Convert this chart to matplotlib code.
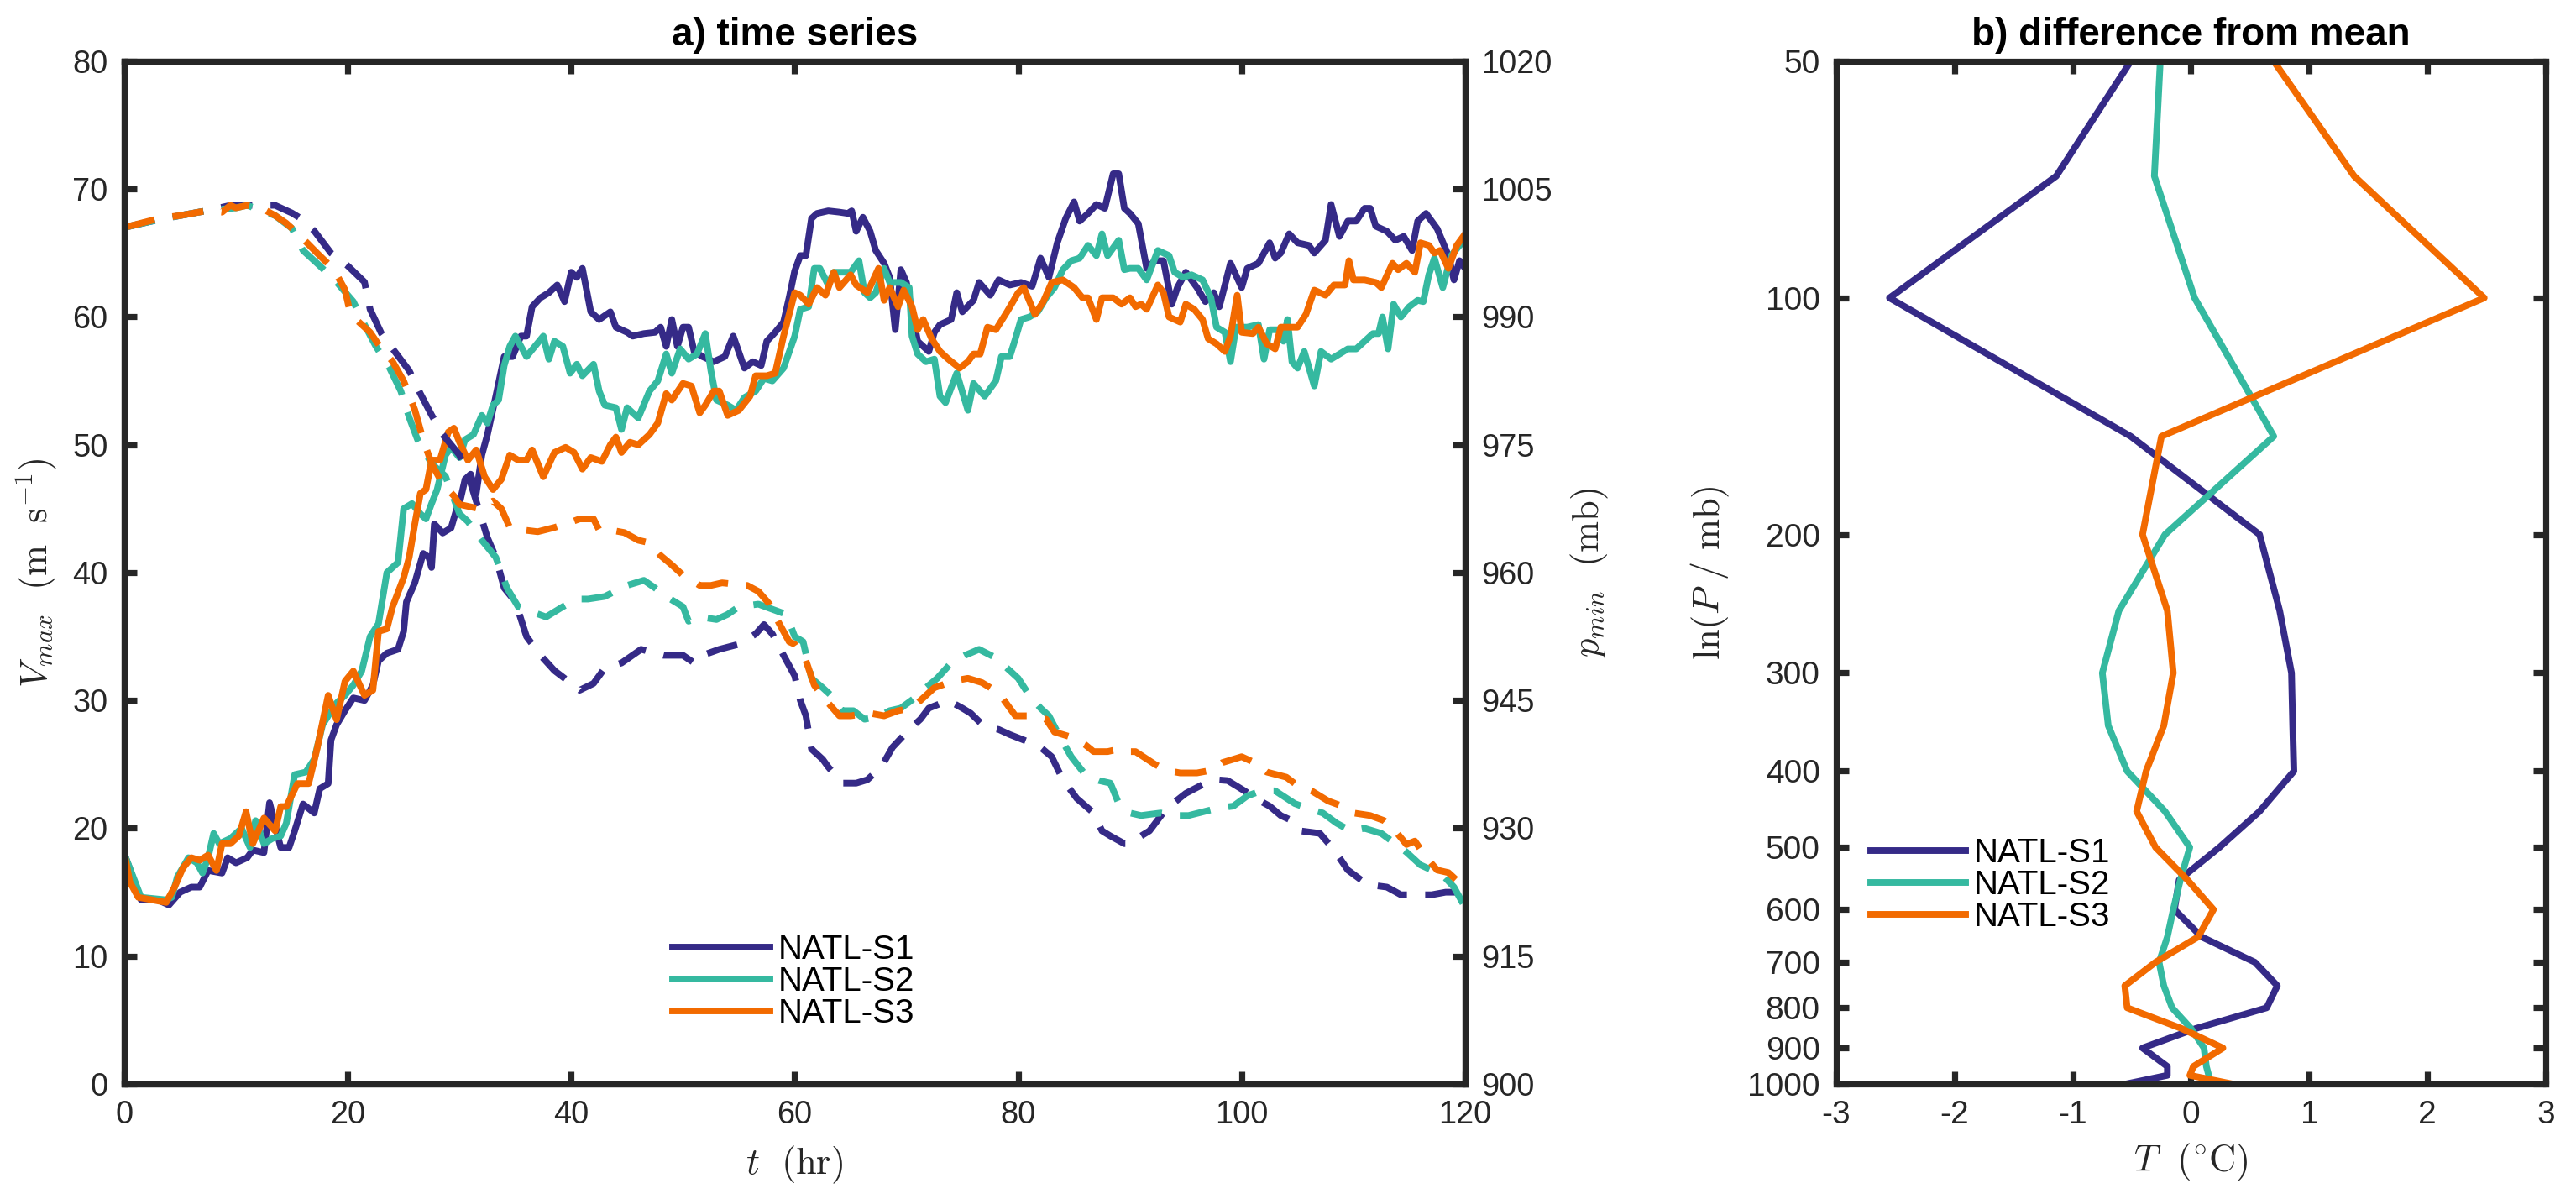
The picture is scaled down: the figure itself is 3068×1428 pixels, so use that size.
import numpy as np
import matplotlib
matplotlib.use('Agg')
import matplotlib.pyplot as plt
from matplotlib.ticker import NullLocator

# ── Data: a) time series ──────────────────────────────────────────────────────
runs = ['NATL-S1', 'NATL-S2', 'NATL-S3']

# Vmax (m/s), solid lines
t_v1 = [0, 1.5, 3, 4, 5, 6, 6.75, 7.5, 8.75, 9.25,
        10, 11, 11.5, 12.5, 13, 14, 14.75, 15.25, 16, 17,
        17.5, 18.25, 18.5, 19, 19.75, 20.5, 21.5, 22.25, 22.75, 23.5,
        24.5, 25, 25.25, 26, 26.75, 27.25, 27.5, 27.75, 28.5, 29.25,
        29.75, 30, 30.5, 31, 31.5, 32, 32.5, 33.25, 34, 34.75,
        35.5, 36, 36.5, 37.25, 38, 38.75, 39.4, 40, 40.5, 41,
        41.75, 42.5, 43.5, 44, 45, 45.5, 46.5, 47.5, 48, 48.5,
        49, 49.5, 50, 50.5, 51, 51.75, 52.75, 53.75, 54.5, 55.5,
        56.25, 57, 57.5, 58.25, 59, 59.5, 60, 60.5, 61, 61.5,
        62, 63, 64, 64.75, 65.1, 65.5, 66.1, 66.75, 67.25, 68,
        68.5, 69, 69.5, 70, 70.5, 71, 72, 72.5, 73, 74,
        74.5, 75, 76, 76.5, 77.5, 78.25, 79.25, 80.25, 81.25, 82,
        82.75, 83.5, 84.25, 85, 85.5, 86.25, 87, 87.75, 88.5, 89,
        89.5, 90, 90.75, 91.5, 92.25, 93, 93.75, 94.25, 95, 96,
        96.75, 97.5, 98, 99, 100, 100.5, 101.5, 102.5, 103, 103.5,
        104.25, 105, 106, 106.5, 107.5, 108, 108.75, 109.5, 110.25, 111,
        111.5, 112, 113, 113.75, 114.5, 115.25, 115.75, 116.5, 117.5, 118.5,
        119, 119.5, 120]
v1 = [18.0, 14.4, 14.4, 14.0, 15.0, 15.4, 15.4, 16.7, 16.5, 17.7,
      17.3, 17.7, 18.3, 18.1, 22.0, 18.5, 18.5, 19.8, 21.9, 21.2,
      23.1, 23.5, 26.9, 28.1, 29.2, 30.2, 30.0, 31.2, 33.1, 33.7,
      34.0, 35.4, 37.7, 39.2, 41.5, 41.2, 40.4, 43.8, 43.1, 43.5,
      45.0, 45.4, 47.3, 47.7, 46.2, 49.2, 50.8, 53.8, 56.9, 56.9,
      58.5, 58.5, 60.8, 61.5, 61.9, 62.5, 61.2, 63.5, 63.1, 63.8,
      60.4, 59.8, 60.4, 59.2, 58.8, 58.5, 58.7, 58.8, 59.2, 57.7,
      59.8, 57.7, 59.2, 59.2, 57.3, 56.9, 56.5, 56.9, 58.5, 56.0,
      56.5, 56.2, 58.1, 58.8, 59.6, 61.5, 63.6, 64.8, 64.8, 67.7,
      68.1, 68.3, 68.2, 68.1, 68.3, 66.7, 67.8, 66.7, 65.2, 64.2,
      63.1, 59.0, 63.7, 62.7, 60.4, 58.1, 57.3, 58.8, 59.4, 59.8,
      61.9, 60.4, 61.3, 62.7, 61.7, 62.9, 62.5, 62.7, 62.4, 64.6,
      63.1, 65.8, 67.7, 69.0, 67.5, 68.1, 68.8, 68.5, 71.2, 71.2,
      68.5, 68.1, 67.3, 63.8, 64.4, 64.4, 61.0, 62.3, 63.5, 62.3,
      61.2, 61.9, 60.8, 64.2, 62.3, 63.8, 64.2, 65.8, 64.6, 65.0,
      66.5, 65.8, 65.6, 65.0, 66.0, 68.8, 66.3, 67.5, 67.5, 68.5,
      68.5, 67.1, 66.7, 66.0, 66.3, 65.2, 67.5, 68.1, 66.9, 64.8,
      62.9, 64.4, 63.8]

t_v2 = [0, 1.5, 3.75, 4.25, 4.75, 5.75, 6.5, 7, 7.5, 8,
        8.5, 9.5, 10.5, 11.25, 11.75, 12.5, 13.25, 14, 14.5, 15.25,
        16.25, 17, 17.75, 18.25, 19, 19.75, 20.5, 21.25, 22, 22.75,
        23.5, 24.5, 25, 25.75, 26.5, 27, 27.5, 28, 28.75, 29.25,
        30, 30.5, 31.25, 32, 32.5, 33, 33.5, 34, 34.5, 35,
        35.5, 36, 36.75, 37.5, 38, 38.5, 39.25, 39.9, 40.5, 41,
        42, 42.5, 43, 44, 44.5, 45, 46, 47, 47.75, 48.5,
        49, 49.75, 50.5, 51.25, 52, 52.5, 53, 54, 54.75, 55.5,
        56.5, 57.25, 58, 59, 60, 60.5, 61.25, 61.75, 62.25, 63,
        63.5, 64.25, 65, 65.75, 66.25, 66.75, 67.25, 68, 68.5, 69.5,
        70.25, 70.5, 71, 71.75, 72.5, 73, 73.5, 74.5, 75.5, 76,
        77, 78, 78.5, 79.25, 79.75, 80.25, 81, 81.75, 82.5, 83.25,
        84, 84.75, 85.5, 86.25, 87, 87.5, 88, 89, 89.5, 90,
        90.75, 91.5, 92.5, 93.5, 94, 94.75, 95.5, 96.5, 97.25, 97.75,
        98.5, 99, 99.5, 100.5, 101.5, 102, 102.5, 103.25, 103.75, 104.1,
        104.5, 105, 105.6, 106.5, 107.1, 108, 109.5, 110.25, 111, 111.75,
        112.25, 112.6, 113.1, 113.6, 114.25, 115, 115.75, 116.25, 116.75, 117.25,
        118, 118.75, 119.5, 120]
v2 = [18.0, 14.6, 14.4, 14.6, 16.2, 17.7, 17.3, 16.5, 17.7, 19.6,
      18.8, 19.2, 20.0, 18.5, 20.6, 18.8, 19.2, 19.4, 20.4, 24.2,
      24.4, 25.4, 28.1, 28.8, 29.8, 30.4, 31.2, 32.3, 35.0, 36.0,
      40.0, 40.8, 45.0, 45.4, 44.6, 44.2, 45.4, 46.5, 49.2, 49.8,
      49.0, 50.4, 50.8, 52.3, 51.7, 53.1, 53.5, 56.2, 57.7, 58.5,
      57.7, 56.9, 57.7, 58.5, 56.7, 58.1, 57.7, 55.6, 56.3, 55.4,
      56.3, 54.2, 53.1, 52.9, 51.2, 52.9, 52.1, 54.2, 55.0, 57.1,
      55.6, 57.5, 56.7, 57.1, 58.7, 55.8, 53.5, 53.1, 52.7, 53.7,
      54.2, 55.2, 55.0, 56.0, 58.5, 60.6, 60.8, 63.8, 63.8, 62.5,
      63.5, 63.5, 63.5, 64.4, 61.9, 61.5, 61.9, 63.8, 62.7, 62.7,
      62.3, 58.5, 57.1, 56.5, 56.7, 53.8, 53.3, 55.6, 52.7, 54.8,
      53.8, 55.0, 56.9, 56.9, 58.3, 59.8, 60.0, 60.4, 61.5, 62.3,
      63.7, 64.4, 64.6, 65.6, 64.8, 66.5, 64.8, 66.0, 63.7, 63.8,
      63.8, 62.9, 65.2, 64.8, 63.5, 63.1, 63.3, 62.9, 61.5, 59.2,
      58.8, 56.5, 59.2, 59.2, 59.4, 56.7, 59.0, 59.0, 58.1, 59.8,
      56.5, 56.0, 57.3, 54.6, 57.3, 56.7, 57.5, 57.5, 58.1, 58.7,
      58.7, 60.0, 57.5, 61.0, 60.0, 60.8, 61.3, 61.2, 63.3, 64.6,
      62.3, 64.8, 65.6, 66.0]

t_v3 = [0, 0.5, 1.25, 2.5, 3.75, 4.5, 5.25, 6, 6.75, 7.5,
        8.25, 8.75, 9.5, 10.25, 10.9, 11.5, 12.5, 13.5, 14, 14.5,
        15.5, 16.5, 17.25, 18.25, 19, 19.75, 20.5, 21.5, 22.25, 22.75,
        23.5, 24, 25, 25.5, 26, 26.5, 27, 27.5, 28.25, 29,
        29.5, 30, 30.75, 31.5, 32.25, 33, 33.75, 34.5, 35.25, 36,
        36.5, 37.5, 38.5, 39.5, 40.25, 41, 41.75, 42.75, 43.5, 44,
        44.5, 45.25, 46, 47, 47.75, 48.5, 49, 50, 50.75, 51.5,
        52, 52.75, 53.25, 54, 55, 56, 56.5, 57.5, 58.25, 59,
        60, 60.5, 61.25, 62, 62.75, 63.5, 64, 65, 65.5, 66.5,
        67.5, 68, 68.5, 69.25, 69.75, 70.5, 71, 71.5, 72.25, 73,
        73.75, 74.75, 75.5, 76, 76.6, 77.25, 78, 79, 80, 80.5,
        81.5, 82.25, 83, 84, 85, 85.75, 86.25, 87, 87.5, 88.5,
        89.25, 90, 90.5, 91, 91.5, 92.5, 93, 93.5, 94.5, 95,
        95.75, 96.5, 97, 97.75, 98.5, 99, 99.6, 100, 101, 101.5,
        102.25, 103, 103.5, 105, 105.75, 106.5, 107.5, 108.25, 109.25, 109.6,
        110, 111, 112, 112.5, 113.5, 114, 114.75, 115.5, 116, 116.75,
        117.25, 117.75, 118.5, 119.25, 120]
v3 = [18.1, 15.8, 14.6, 14.4, 14.2, 15.4, 16.9, 17.7, 17.5, 17.9,
      16.7, 18.8, 18.8, 19.4, 21.3, 18.8, 20.8, 19.8, 21.7, 21.7,
      23.5, 23.5, 26.2, 30.4, 28.5, 31.5, 32.3, 30.4, 30.8, 35.4,
      35.6, 37.3, 39.6, 41.2, 43.8, 46.2, 46.5, 48.8, 48.8, 51.0,
      51.3, 50.2, 48.8, 49.6, 47.5, 46.5, 47.3, 49.2, 48.8, 48.8,
      49.6, 47.5, 49.4, 49.8, 49.4, 48.1, 49.0, 48.7, 50.0, 50.6,
      49.4, 50.2, 50.0, 50.8, 51.7, 54.0, 53.5, 54.8, 54.6, 52.5,
      53.1, 54.2, 54.2, 52.3, 52.7, 53.8, 55.4, 55.4, 55.6, 58.5,
      61.9, 61.7, 61.0, 62.3, 61.7, 63.5, 62.3, 63.3, 62.5, 61.9,
      63.8, 61.3, 62.3, 60.8, 62.1, 60.8, 59.0, 59.8, 58.3, 57.3,
      56.7, 56.0, 56.5, 57.1, 57.1, 59.2, 59.0, 60.4, 61.9, 62.3,
      60.2, 61.2, 62.7, 62.9, 62.3, 61.5, 61.5, 59.8, 61.5, 61.5,
      61.0, 61.5, 60.8, 61.0, 60.6, 62.5, 61.9, 60.0, 59.6, 61.0,
      60.6, 59.8, 58.3, 57.9, 57.3, 58.5, 61.7, 58.8, 58.7, 59.2,
      57.9, 57.5, 59.2, 59.2, 60.2, 62.1, 61.7, 62.5, 62.5, 64.4,
      62.9, 62.9, 62.7, 62.3, 64.2, 63.7, 64.2, 63.5, 65.8, 65.6,
      65.0, 65.2, 63.8, 65.6, 66.5]

# pmin (mb), dashed lines
t_p1 = [0, 3, 5, 7.5, 9.5, 11, 13.5, 15, 15.75, 17,
        18.5, 20, 21.5, 22, 23, 24, 25.5, 26.5, 27.5, 28.5,
        30, 31, 32.5, 33.25, 34, 35, 36, 37.25, 38.5, 40,
        40.75, 42, 43, 44.5, 46.25, 48.25, 50, 51, 51.75, 53.25,
        55, 56.5, 57.25, 58, 59, 60, 60.5, 61, 61.5, 62.5,
        63, 64.25, 65.5, 66.5, 67.75, 68.75, 70.25, 71.25, 72, 73.75,
        75, 75.75, 77, 78.25, 79.25, 81, 82, 83, 84, 85.25,
        86.75, 87.5, 88.25, 89.5, 90, 91, 91.75, 93.25, 95, 96.75,
        97.75, 98.75, 100.25, 101.25, 102.5, 103.5, 104.5, 105.25, 107, 108.25,
        109.5, 111.25, 113, 114.25, 117, 118.25, 119.25, 120]
p1 = [1000.5, 1001.4, 1001.9, 1002.5, 1003.1, 1003.1, 1003.1, 1002.2, 1001.6, 1000.1,
      997.5, 996.0, 994.1, 990.9, 988.1, 986.3, 983.7, 981.0, 978.5, 976.2,
      973.8, 970.5, 964.1, 961.8, 958.2, 956.6, 952.5, 950.3, 948.5, 947.0,
      946.2, 947.0, 948.8, 949.4, 951.0, 950.3, 950.3, 949.4, 950.3, 951.0,
      951.6, 952.8, 953.9, 952.8, 950.3, 947.9, 945.0, 943.2, 939.3, 938.1,
      937.2, 935.3, 935.3, 935.7, 937.2, 939.5, 941.6, 942.8, 944.1, 945.0,
      944.1, 943.5, 941.9, 941.6, 941.0, 940.1, 939.5, 938.4, 935.7, 933.5,
      931.8, 929.7, 929.1, 928.2, 928.2, 929.1, 929.7, 932.3, 934.1, 935.3,
      935.7, 935.6, 934.4, 933.5, 932.6, 931.5, 930.9, 929.7, 929.4, 927.5,
      925.1, 923.4, 923.1, 922.2, 922.2, 922.5, 922.5, 921.9]

t_p2 = [0, 3, 5, 7.5, 10, 11, 13.5, 15, 16, 17.5,
        19, 20.5, 21.5, 22.5, 23.75, 24.75, 25.5, 26.25, 27.5, 28.75,
        30, 30.75, 32, 33.25, 34.25, 35.25, 36.5, 37.75, 39.25, 40.5,
        41.5, 43, 44.5, 45, 46.5, 47.5, 48.5, 50, 50.5, 51.5,
        53, 54, 55, 56.75, 58, 59.25, 60, 60.75, 61.5, 62.5,
        63.25, 64.25, 65.25, 66.25, 67.5, 68.5, 69.5, 70.75, 71.75, 72.75,
        74, 75.25, 76.5, 78, 79, 80, 81, 82, 82.75, 83.75,
        84.75, 86, 87.25, 88.25, 89, 90, 91, 92.75, 94, 95.25,
        96.75, 98, 99.25, 100.5, 101.75, 103, 104.75, 106, 107.25, 108.5,
        109.75, 111, 112.5, 113.75, 114.75, 116, 117, 118, 119, 119.75,
        120]
p2 = [1000.5, 1001.4, 1001.9, 1002.5, 1002.8, 1003.1, 1001.9, 1000.4, 997.8, 996.0,
      994.1, 991.8, 989.1, 986.6, 984.0, 981.3, 978.2, 975.6, 972.8, 971.3,
      966.9, 966.0, 963.8, 961.8, 958.2, 956.0, 955.4, 954.8, 956.0, 956.9,
      956.9, 957.2, 958.2, 958.5, 959.1, 958.2, 957.2, 956.0, 954.3, 954.8,
      954.5, 955.1, 956.0, 956.3, 955.7, 955.1, 952.5, 951.9, 947.6, 946.5,
      945.6, 943.8, 943.8, 942.8, 943.1, 943.8, 944.1, 945.3, 946.5, 947.6,
      949.4, 950.3, 951.0, 950.0, 948.8, 947.6, 945.6, 944.1, 943.2, 940.7,
      938.4, 936.3, 935.6, 935.3, 932.9, 931.8, 931.5, 931.8, 931.5, 931.5,
      932.0, 932.4, 932.6, 933.8, 934.4, 934.4, 932.9, 932.3, 931.8, 930.6,
      929.7, 930.0, 929.4, 928.2, 927.2, 925.7, 925.1, 924.5, 923.1, 921.3,
      920.7]

t_p3 = [0, 3.25, 5, 7.5, 8.75, 9.5, 10, 11, 12.25, 13.5,
        14.5, 15.75, 17.25, 18.75, 19.75, 20.25, 21.25, 22, 23, 24,
        25, 26, 26.75, 27.5, 28.5, 29.5, 30, 31.75, 33, 33.75,
        34.5, 35.75, 37, 38.5, 39.5, 40.75, 42, 42.5, 43.5, 44.75,
        46, 47, 48, 49, 50, 51.5, 52.5, 53.5, 55.75, 56.75,
        57.75, 58.5, 59.5, 60, 61, 61.75, 63, 64, 65, 66.75,
        68, 69.25, 70.5, 71.5, 72.5, 74.25, 75.5, 76.75, 78.25, 79.75,
        81.25, 82.5, 83.25, 84.75, 86, 86.75, 88, 89, 90, 90.5,
        92.25, 93.25, 94.5, 96, 97.25, 98.25, 100, 101, 102.25, 104,
        105, 106.25, 107.75, 109, 110, 111.5, 112.75, 113.75, 114.75, 115.5,
        116.5, 117.5, 118.5, 119.25, 120]
p3 = [1000.5, 1001.6, 1001.9, 1002.5, 1002.3, 1003.1, 1002.8, 1003.1, 1002.8, 1001.9,
      1001.0, 999.5, 997.5, 995.6, 993.2, 990.3, 989.1, 988.2, 986.3, 984.8,
      982.5, 979.1, 975.6, 972.8, 970.4, 969.0, 968.0, 967.5, 968.4, 967.5,
      965.3, 965.0, 964.8, 965.3, 965.7, 966.3, 966.3, 965.0, 965.0, 964.7,
      963.8, 963.5, 962.0, 960.9, 959.7, 958.5, 958.5, 958.8, 958.5, 957.8,
      956.3, 954.3, 951.9, 951.6, 949.7, 946.8, 944.7, 943.2, 943.2, 943.5,
      943.2, 943.8, 944.1, 945.3, 946.5, 947.3, 947.6, 947.1, 945.9, 943.2,
      943.2, 942.8, 941.3, 940.7, 939.8, 939.0, 939.0, 939.3, 939.0, 939.0,
      937.5, 936.8, 936.5, 936.5, 936.8, 937.7, 938.4, 937.8, 936.6, 936.0,
      935.0, 934.4, 933.2, 932.6, 931.8, 931.5, 930.9, 929.7, 928.1, 928.5,
      926.6, 925.1, 924.8, 923.9, 922.8]

# ── Data: b) temperature difference profiles ──────────────────────────────────
levels = [50, 70, 100, 150, 200, 250, 300, 350, 400, 450, 500,
          550, 600, 650, 700, 750, 800, 850, 900, 950, 975, 1000]
dT1 = [-0.51, -1.14, -2.55, -0.51, 0.58, 0.75, 0.85, 0.86, 0.87, 0.58, 0.24,
       -0.10, -0.14, 0.09, 0.54, 0.73, 0.64, 0.04, -0.41, -0.20, -0.20, -0.55]
dT2 = [-0.26, -0.31, 0.03, 0.70, -0.22, -0.61, -0.75, -0.70, -0.54, -0.22, -0.01,
       -0.09, -0.15, -0.20, -0.27, -0.23, -0.16, 0.00, 0.11, 0.13, 0.15, 0.16]
dT3 = [0.70, 1.38, 2.48, -0.25, -0.41, -0.20, -0.15, -0.23, -0.38, -0.46, -0.30,
       -0.03, 0.19, 0.06, -0.30, -0.56, -0.54, -0.08, 0.27, 0.02, -0.01, 0.35]

p_ticks = [50, 100, 200, 300, 400, 500, 600, 700, 800, 900, 1000]

# ── Style ─────────────────────────────────────────────────────────────────────
COLORS = ['#352A87', '#35B9A0', '#F26A00']
AX_COL = '#262626'
LW = 2.85
SPINE_LW = 2.6
DASH = (0, (4.7, 2.75))

plt.rcParams['font.family'] = ['Liberation Sans', 'DejaVu Sans']
plt.rcParams['mathtext.fontset'] = 'cm'
plt.rcParams['axes.unicode_minus'] = False

fig = plt.figure(figsize=(15.34, 7.14), dpi=200)


def style_axes(ax, labelsize):
    for sp in ax.spines.values():
        sp.set_linewidth(SPINE_LW)
        sp.set_color(AX_COL)
    ax.tick_params(direction='in', length=5.5, width=SPINE_LW, colors=AX_COL,
                   labelsize=labelsize, pad=7)


# ── a) time series ────────────────────────────────────────────────────────────
ax1 = fig.add_axes([0.04824, 0.09594, 0.52053, 0.85294])
ax2 = ax1.twinx()

solid = []
for t, v, c in zip([t_v1, t_v2, t_v3], [v1, v2, v3], COLORS):
    ln, = ax1.plot(t, v, color=c, lw=LW)
    solid.append(ln)
for t, p, c in zip([t_p1, t_p2, t_p3], [p1, p2, p3], COLORS):
    ax2.plot(t, p, color=c, lw=LW, linestyle=DASH, dash_capstyle='butt')

ax1.set_xlim(0, 120)
ax1.set_ylim(0, 80)
ax2.set_ylim(900, 1020)
ax1.set_xticks(np.arange(0, 121, 20))
ax1.set_yticks(np.arange(0, 81, 10))
ax2.set_yticks(np.arange(900, 1021, 15))
style_axes(ax1, 13.7)
style_axes(ax2, 13.7)
ax1.tick_params(top=True, right=False)

ax1.set_xlabel(r'$t\ \ (\mathrm{hr})$', fontsize=16, color=AX_COL)
ax1.set_ylabel(r'$V_{max}\ \ (\mathrm{m\ \ s^{-1}})$', fontsize=16, color=AX_COL)
ax2.set_ylabel(r'$p_{min}\ \ (\mathrm{mb})$', fontsize=16, color=AX_COL)
ax1.xaxis.set_label_coords(0.5, -0.0788)
ax1.xaxis.label.set_va('center')
ax1.yaxis.set_label_coords(-0.0657, 0.5)
ax1.yaxis.label.set_va('center')
ax2.yaxis.set_label_coords(1.0927, 0.5)
ax2.yaxis.label.set_va('center')

ax1.set_title('a) time series', fontsize=16.5, fontweight='bold', pad=7)

ax2.legend(solid, runs, loc='upper left', bbox_to_anchor=(0.2611, 0.2213),
           bbox_transform=fig.transFigure, frameon=False, fontsize=14.5,
           handlelength=2.88, handletextpad=0.25, labelspacing=0.0,
           borderpad=0, borderaxespad=0)

# ── b) difference from mean ───────────────────────────────────────────────────
ax3 = fig.add_axes([0.71284, 0.09594, 0.27542, 0.85294])
prof = []
for d, c in zip([dT1, dT2, dT3], COLORS):
    ln, = ax3.plot(d, levels, color=c, lw=LW)
    prof.append(ln)

ax3.set_yscale('log')
ax3.set_ylim(1000, 50)
ax3.set_yticks(p_ticks)
ax3.set_yticklabels([str(p) for p in p_ticks])
ax3.yaxis.set_minor_locator(NullLocator())
ax3.set_xlim(-3, 3)
ax3.set_xticks(np.arange(-3, 4, 1))
style_axes(ax3, 14)
ax3.tick_params(top=True, right=True)

ax3.set_xlabel(r'$T\ \ (^{\circ}\mathrm{C})$', fontsize=16, color=AX_COL)
ax3.set_ylabel(r'$\ln(P\ /\ \mathrm{mb})$', fontsize=16, color=AX_COL)
ax3.xaxis.set_label_coords(0.5, -0.0764)
ax3.xaxis.label.set_va('center')
ax3.yaxis.set_label_coords(-0.1775, 0.5)
ax3.yaxis.label.set_va('center')

ax3.set_title('b) difference from mean', fontsize=16.5, fontweight='bold', pad=7)

ax3.legend(prof, runs, loc='upper left', bbox_to_anchor=(0.7262, 0.3018),
           bbox_transform=fig.transFigure, frameon=False, fontsize=14.5,
           handlelength=2.8, handletextpad=0.25, labelspacing=0.0,
           borderpad=0, borderaxespad=0)

fig.savefig('out.png', dpi=200)
